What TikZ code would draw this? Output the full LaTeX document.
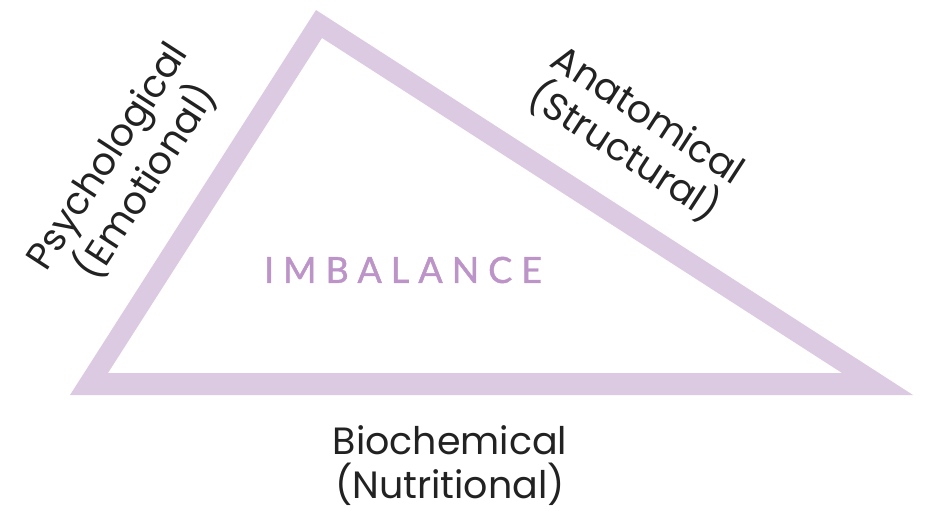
\documentclass[tikz,border=0pt]{standalone}
\usepackage{fontspec}
\setmainfont{Poppins}
\newfontfamily\imbfont[FakeBold=1.2]{Lato}
\usepackage{tikz}
\usetikzlibrary{positioning}
\definecolor{lilac}{HTML}{DCCAE2}
\definecolor{lilactext}{HTML}{BC94C8}
\definecolor{inkgrey}{HTML}{222222}
\tikzset{
    side/.style={
           align=center,
           inner sep=0pt,
           text=inkgrey,
           font=\fontsize{38}{44}\selectfont
           },
    centre/.style={
           inner sep=0pt,
           text=lilactext,
           font=\imbfont\fontsize{36}{36}\selectfont\addfontfeature{LetterSpace=25}
           }
}
\begin{document}
\begin{tikzpicture}[x=1pt, y=-1pt]
\useasboundingbox (0,0) rectangle (925,514);
   % the frame of the triangle
   \fill[lilac, even odd rule]
    (70,395) -- (316,10) -- (913,395) -- cycle
    (108,373) -- (322,38) -- (842,373) -- cycle;
   \node[centre] (imb) at (403,270) {IMBALANCE};
   \node[side] (bio) at (450,466) {Biochemical\\(Nutritional)};
   \node[side, rotate=57] (psy) at (128,170) {Psychological\\(Emotional)};
   \node[side, rotate=-33] (ana) at (635,135) {Anatomical\\(Structural)};
\end{tikzpicture}
\end{document}
